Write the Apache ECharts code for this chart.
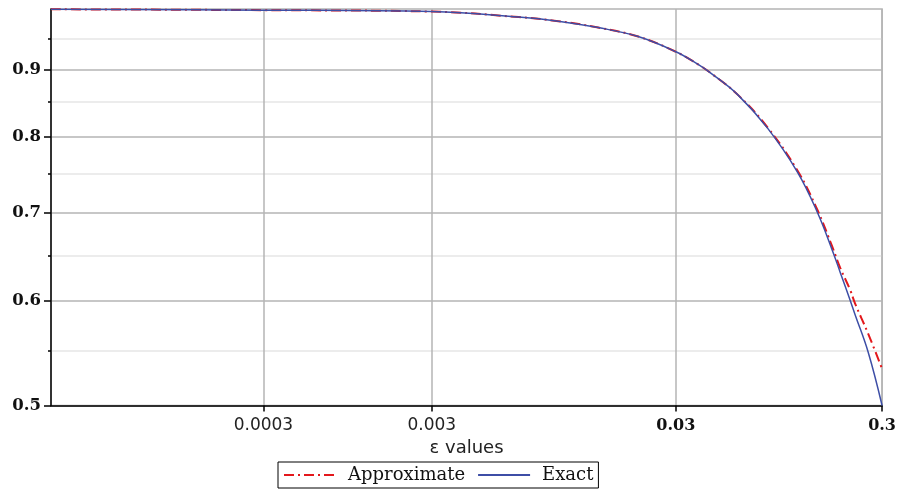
<!DOCTYPE html>
<html><head><meta charset="utf-8">
<script src="https://cdn.jsdelivr.net/npm/echarts@6/dist/echarts.min.js"></script>
<style>html,body{margin:0;padding:0;background:#fff}#c{width:899px;height:489px}</style>
</head><body><div id="c"></div>
<script>
// epsilon values (x)
const epsValues = [2.8e-5, 2.93e-4, 1.965e-3, 5.18e-3, 8.07e-3, 0.0126, 0.0197, 0.03, 0.0383, 0.0443, 0.0598, 0.0835, 0.1166, 0.1456, 0.172, 0.188, 0.21, 0.222, 0.2567, 0.3];
const exactValues = [0.9995, 0.998, 0.9955, 0.986, 0.979, 0.968, 0.953, 0.928, 0.908, 0.894, 0.861, 0.812, 0.752, 0.701, 0.656, 0.631, 0.601, 0.586, 0.549, 0.500];
const approxValues = [0.9995, 0.998, 0.9955, 0.986, 0.979, 0.968, 0.953, 0.928, 0.908, 0.894, 0.861, 0.813, 0.754, 0.704, 0.660, 0.636, 0.612, 0.5975, 0.567, 0.533];
// x tick positions as drawn in the reference (its "0.003" gridline sits left of the true decade)
const xTickValues = [0.0003, 0.001966, 0.03, 0.3];
const xTickLabels = ['0.0003', '0.003', '0.03', '0.3'];
const yTickValues = [0.5, 0.6, 0.7, 0.8, 0.9];
const yTickLabels = ['0.5', '0.6', '0.7', '0.8', '0.9'];
const yMinorValues = [0.55, 0.65, 0.75, 0.85, 0.95];
const seriesNames = ['Approximate', 'Exact'];

function nearestIdx(arr, v) {
  let best = 0, bd = Infinity;
  arr.forEach((a, i) => { const d = Math.abs(Math.log(a) - Math.log(v)); if (d < bd) { bd = d; best = i; } });
  return best;
}

const chart = echarts.init(document.getElementById('c'), null, {renderer: 'canvas'});
chart.setOption({
  animation: false,
  backgroundColor: '#fff',
  grid: {left: 51, right: 12, top: 9, bottom: 83.5, show: true, borderColor: '#b4b4b4', borderWidth: 1.5, backgroundColor: 'transparent'},
  legend: {
    data: seriesNames, left: 278, top: 462, orient: 'horizontal',
    itemWidth: 52, itemHeight: 14, itemGap: 12, padding: [4, 5],
    borderColor: '#000', borderWidth: 1, borderRadius: 0,
    itemStyle: {opacity: 0},
    textStyle: {fontFamily: 'DejaVu Serif', fontSize: 18, color: '#111', padding: [0, 0, 0, 7]}
  },
  xAxis: {
    type: 'log', logBase: 10, min: 2.8e-5, max: 0.3,
    name: 'ε values', nameLocation: 'middle', nameGap: 31,
    nameTextStyle: {fontFamily: 'DejaVu Sans', fontSize: 18, color: '#222'},
    axisLine: {lineStyle: {color: '#000', width: 1.5}},
    axisTick: {customValues: xTickValues, length: 6, lineStyle: {color: '#000', width: 1.5}},
    axisLabel: {
      customValues: xTickValues, margin: 12,
      formatter: v => { const i = nearestIdx(xTickValues, v); return (i < 2 ? '{s|' : '{b|') + xTickLabels[i] + '}'; },
      rich: {
        s: {fontFamily: 'DejaVu Sans', fontSize: 17, color: '#222'},
        b: {fontFamily: 'DejaVu Serif', fontWeight: 'bold', fontSize: 16, color: '#111'}
      }
    },
    splitLine: {show: true, lineStyle: {color: '#b4b4b4', width: 1.5}},
    minorTick: {show: false}, minorSplitLine: {show: false}
  },
  yAxis: [{
    type: 'log', logBase: 10, min: 0.5, max: 1.0, position: 'left',
    axisLine: {show: true, lineStyle: {color: '#000', width: 1.5}},
    axisTick: {show: true, customValues: yTickValues, length: 7, lineStyle: {color: '#000', width: 1.5}},
    axisLabel: {
      customValues: yTickValues, margin: 10,
      formatter: v => yTickLabels[nearestIdx(yTickValues, v)],
      fontFamily: 'DejaVu Serif', fontWeight: 'bold', fontSize: 16.5, color: '#111'
    },
    splitLine: {show: true, lineStyle: {color: '#b4b4b4', width: 1.5}}
  }, {
    type: 'log', logBase: 10, min: 0.5, max: 1.0, position: 'left',
    axisLine: {show: false},
    axisTick: {show: true, customValues: yMinorValues, length: 3, lineStyle: {color: '#000', width: 1.5}},
    axisLabel: {show: false},
    splitLine: {show: true, lineStyle: {color: '#e6e6e6', width: 1.5}}
  }],
  series: [{
    name: 'Approximate', type: 'line', yAxisIndex: 0, smooth: 0.4, symbol: 'none',
    data: epsValues.map((e, i) => [e, approxValues[i]]),
    lineStyle: {color: '#e3181c', width: 2, type: [10, 4, 2, 4]},
    itemStyle: {color: '#e3181c'}
  }, {
    name: 'Exact', type: 'line', yAxisIndex: 0, smooth: 0.4, symbol: 'none',
    data: epsValues.map((e, i) => [e, exactValues[i]]),
    lineStyle: {color: '#3d4ea6', width: 1.5},
    itemStyle: {color: '#3d4ea6'}
  }]
});
</script></body></html>
